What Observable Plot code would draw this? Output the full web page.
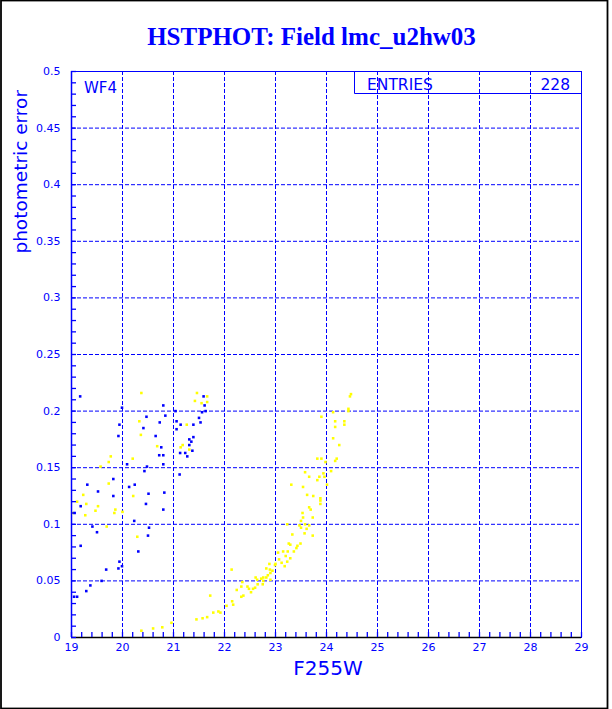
<!DOCTYPE html>
<html>
<head>
<meta charset="utf-8">
<script src="https://cdn.jsdelivr.net/npm/d3@7"></script>
<script src="https://cdn.jsdelivr.net/npm/@observablehq/plot@0.6"></script>
<style>
  html, body { margin: 0; padding: 0; background: white; }
  #chart svg { display: block; }
</style>
</head>
<body>
<div id="chart"></div>
<script>
// ---- data ----
const blueX = [19.17,19.99,20.80,21.59,21.61,21.56,21.63,21.04,20.47,20.84,20.73,20.41,19.94,19.92,20.65,21.06,21.14,21.06,21.39,21.50,21.53,21.39,21.31,21.35,21.31,20.76,21.37,20.72,20.80,21.13,21.23,21.27,20.09,20.48,20.80,20.43,21.12,19.82,19.31,20.24,20.13,19.52,20.51,20.82,19.82,19.18,20.46,20.80,19.06,20.23,19.41,20.52,19.50,20.50,19.18,20.31,19.94,19.99,19.92,19.68,19.59,19.37,19.29,19.11,19.05];
const blueY = [0.213,0.203,0.205,0.213,0.205,0.199,0.200,0.200,0.195,0.196,0.190,0.185,0.188,0.178,0.178,0.191,0.188,0.184,0.188,0.194,0.190,0.177,0.175,0.173,0.170,0.168,0.165,0.161,0.161,0.163,0.163,0.160,0.153,0.151,0.153,0.147,0.144,0.140,0.135,0.135,0.133,0.129,0.127,0.128,0.125,0.116,0.118,0.113,0.110,0.103,0.098,0.097,0.093,0.090,0.081,0.076,0.067,0.063,0.061,0.060,0.050,0.046,0.041,0.036,0.036];

const yellowX = [20.37,21.46,21.66,21.42,21.55,21.66,20.33,21.26,20.36,20.68,21.18,21.14,21.31,20.20,19.77,19.73,19.57,19.73,19.23,20.21,19.11,19.29,19.52,19.86,19.47,19.84,19.27,19.02,20.00,19.69,20.29,
  20.37,20.60,20.78,20.96,21.45,21.57,21.66,21.72,21.78,21.88,21.92,22.04,22.14,22.15,22.17,22.24,22.33,22.33,22.37,22.35,22.45,22.48,22.52,22.56,22.60,22.61,22.65,22.64,22.72,22.76,22.76,22.75,22.82,22.85,22.82,22.88,22.89,22.90,22.90,22.94,22.99,23.00,23.05,23.07,23.12,23.15,23.18,23.20,23.23,23.24,23.26,23.29,23.29,23.33,23.36,23.41,23.43,23.49,23.23,23.47,23.50,23.50,23.54,23.53,23.57,23.58,23.61,23.66,23.66,23.69,23.73,23.73,23.54,23.62,23.74,23.31,23.58,23.66,23.82,23.90,23.82,23.86,23.88,23.88,23.88,23.94,23.96,23.98,24.01,24.09,23.90,24.13,24.13,24.17,24.17,24.25,24.17,24.20,24.35,24.35,24.43,24.43,24.46,24.48];
const yellowY = [0.216,0.216,0.213,0.209,0.207,0.208,0.191,0.188,0.179,0.169,0.170,0.168,0.166,0.158,0.160,0.155,0.151,0.136,0.126,0.125,0.120,0.118,0.116,0.113,0.112,0.110,0.108,0.110,0.111,0.098,0.089,
  0.006,0.008,0.009,0.013,0.016,0.017,0.018,0.037,0.022,0.023,0.022,0.028,0.060,0.032,0.029,0.042,0.045,0.036,0.037,0.049,0.045,0.043,0.040,0.043,0.044,0.053,0.047,0.051,0.052,0.053,0.050,0.047,0.061,0.055,0.053,0.065,0.060,0.057,0.051,0.059,0.064,0.065,0.075,0.069,0.066,0.076,0.063,0.072,0.067,0.076,0.083,0.082,0.070,0.091,0.076,0.079,0.081,0.083,0.100,0.099,0.097,0.103,0.106,0.110,0.092,0.100,0.096,0.099,0.115,0.113,0.106,0.090,0.133,0.126,0.125,0.135,0.146,0.142,0.158,0.158,0.139,0.142,0.123,0.121,0.118,0.145,0.142,0.155,0.135,0.147,0.195,0.199,0.176,0.191,0.186,0.170,0.156,0.158,0.191,0.188,0.202,0.200,0.213,0.215];

const xTicks = [19,20,21,22,23,24,25,26,27,28,29];
const yTicks = [0,0.05,0.1,0.15,0.2,0.25,0.3,0.35,0.4,0.45,0.5];
const xMinor = d3.range(0, 51).map(i => 19 + i * 0.2);
const yMinor = d3.range(0, 51).map(i => i * 0.01);

const title = "HSTPHOT: Field lmc_u2hw03";
const xLabel = "F255W";
const yLabel = "photometric error";
const panelLabel = "WF4";
const statsName = "ENTRIES";
const statsValue = "228";

const yellow = yellowX.map((x, i) => ({x, y: yellowY[i]}));
const blue = blueX.map((x, i) => ({x, y: blueY[i]}));

const BLUE = "#0000ff";

const plot = Plot.plot({
  width: 612,
  height: 709,
  marginLeft: 71,
  marginRight: 31,
  marginTop: 71,
  marginBottom: 72,
  x: {domain: [19, 29]},
  y: {domain: [0, 0.5]},
  style: {fontFamily: "DejaVu Sans", background: "white", color: BLUE, overflow: "visible"},
  marks: [
    Plot.gridX(xTicks.slice(1, -1), {stroke: BLUE, strokeOpacity: 1, strokeWidth: 1, strokeDasharray: "4,2"}),
    Plot.gridY(yTicks.slice(1, -1), {stroke: BLUE, strokeOpacity: 1, strokeWidth: 1, strokeDasharray: "4,2"}),
    Plot.dot(yellow, {x: "x", y: "y", symbol: "square", r: 1.45, fill: "#ffff00", stroke: null}),
    Plot.dot(blue, {x: "x", y: "y", symbol: "square", r: 1.45, fill: BLUE, stroke: null}),
    Plot.frame({stroke: BLUE, strokeWidth: 1}),
    Plot.ruleY([0], {stroke: "black", strokeWidth: 1.6}),
    Plot.ruleX([19], {stroke: BLUE, strokeWidth: 1.5}),
    Plot.ruleX(xMinor, {x: d => d, y1: 0, y2: 0, insetBottom: 5, stroke: BLUE, strokeWidth: 1.3}),
    Plot.ruleY(yMinor, {y: d => d, x1: 19, x2: 19, insetRight: -5, stroke: BLUE, strokeWidth: 1.3}),
    Plot.axisX(xTicks, {tickSize: 0, tickPadding: 6, fontSize: 11, tickFormat: d => String(d), label: null}),
    Plot.axisY(yTicks, {tickSize: 0, tickPadding: 11, fontSize: 11, tickFormat: d => String(d), label: null})
  ]
});

document.getElementById("chart").appendChild(plot);

// annotations
const svg = d3.select(plot);
svg.append("rect")
  .attr("x", 1).attr("y", 0.5).attr("width", 606.5).attr("height", 708)
  .attr("fill", "none").attr("stroke", "black").attr("stroke-width", 1.8);

function addText(x, y, str, opts) {
  const t = svg.append("text")
    .attr("x", x).attr("y", y)
    .attr("text-anchor", opts.anchor || "start")
    .attr("font-family", opts.family || "DejaVu Sans")
    .attr("font-size", opts.size)
    .attr("fill", BLUE)
    .text(str);
  if (opts.weight) t.attr("font-weight", opts.weight);
  if (opts.transform) t.attr("transform", opts.transform).attr("x", null).attr("y", null);
  return t;
}

addText(311.5, 45, title, {anchor: "middle", family: "Liberation Serif", weight: "bold", size: 25});
addText(328, 675, xLabel, {anchor: "middle", size: 20});
addText(0, 0, yLabel, {anchor: "end", size: 18.5, transform: "translate(27,90) rotate(-90)"});
addText(84, 93, panelLabel, {size: 15});

const g = svg.append("g").attr("stroke", BLUE).attr("stroke-width", 1).attr("fill", "none");
g.append("line").attr("x1", 354.5).attr("x2", 354.5).attr("y1", 71).attr("y2", 93.5);
g.append("line").attr("x1", 354.5).attr("x2", 581).attr("y1", 93.5).attr("y2", 93.5);

addText(367, 89.5, statsName, {size: 15.5});
addText(570, 89.5, statsValue, {anchor: "end", size: 15.5});
</script>
</body>
</html>
